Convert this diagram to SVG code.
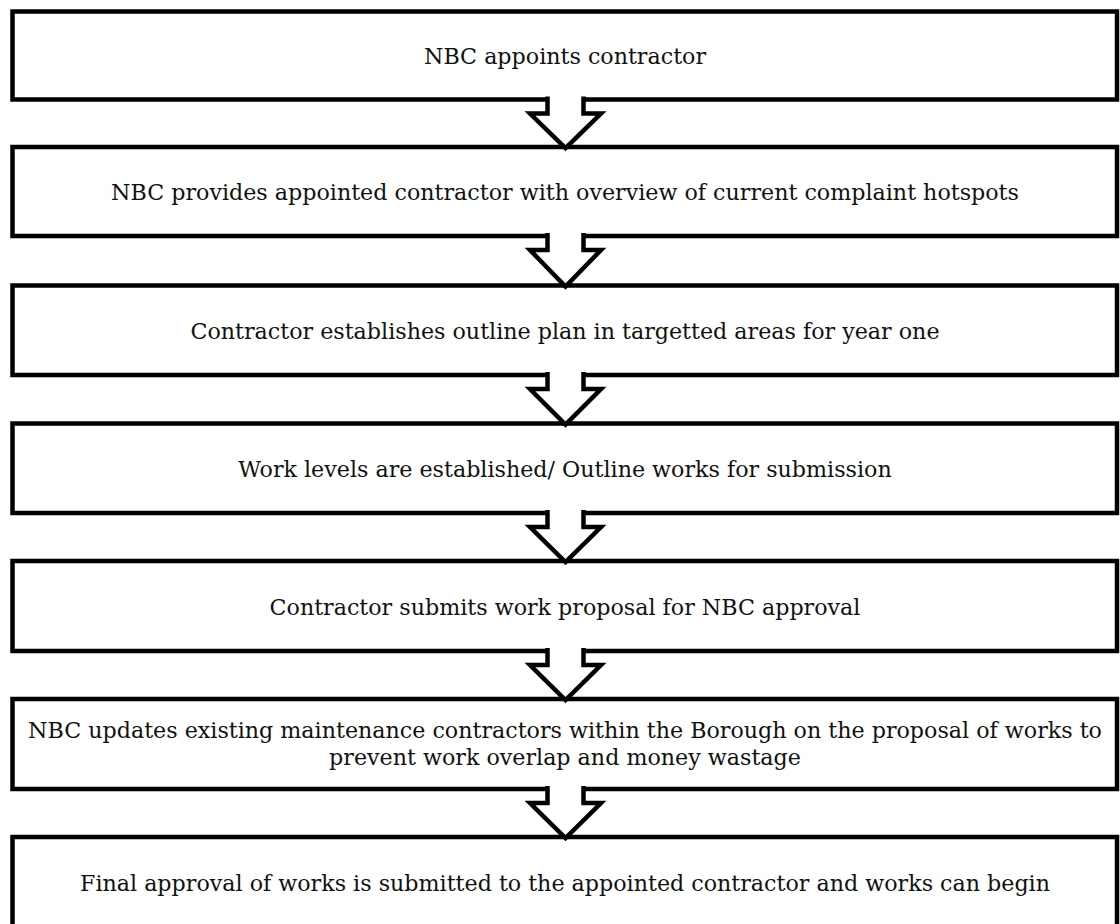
<svg xmlns="http://www.w3.org/2000/svg" width="1120" height="924" viewBox="0 0 1120 924">
  <style>
    .box { fill: #ffffff; stroke: #000000; stroke-width: 4.5; }
    .arrow { fill: #ffffff; stroke: #000000; stroke-width: 4.5; stroke-linejoin: miter; stroke-miterlimit: 10; }
    .lbl { font-family: "DejaVu Serif", "Liberation Serif", serif; font-size: 22.2px; fill: #111111; text-anchor: middle; }
  </style>
  <rect width="1120" height="924" fill="#ffffff"/>
  <g id="node1">
    <rect class="box" x="12.5" y="11.5" width="1104.5" height="88"/>
    <text class="lbl" x="565" y="63.5">NBC appoints contractor</text>
  </g>
  <g id="node2">
    <rect class="box" x="12.5" y="147" width="1104.5" height="89"/>
    <text class="lbl" x="565" y="200">NBC provides appointed contractor with overview of current complaint hotspots</text>
  </g>
  <g id="node3">
    <rect class="box" x="12.5" y="285.5" width="1104.5" height="89.5"/>
    <text class="lbl" x="565" y="338.5">Contractor establishes outline plan in targetted areas for year one</text>
  </g>
  <g id="node4">
    <rect class="box" x="12.5" y="423.5" width="1104.5" height="89.5"/>
    <text class="lbl" x="565" y="476.5">Work levels are established/ Outline works for submission</text>
  </g>
  <g id="node5">
    <rect class="box" x="12.5" y="561" width="1104.5" height="90"/>
    <text class="lbl" x="565" y="614.5">Contractor submits work proposal for NBC approval</text>
  </g>
  <g id="node6">
    <rect class="box" x="12.5" y="699" width="1104.5" height="90"/>
    <text class="lbl" x="565" y="737.5">NBC updates existing maintenance contractors within the Borough on the proposal of works to</text>
    <text class="lbl" x="565" y="765">prevent work overlap and money wastage</text>
  </g>
  <g id="node7">
    <rect class="box" x="12.5" y="837" width="1104.5" height="90"/>
    <text class="lbl" x="565" y="890.5">Final approval of works is submitted to the appointed contractor and works can begin</text>
  </g>
  <g id="connectors">
    <path class="arrow" d="M547.5,96.5 V113.5 H530 L565.5,148 L601,113.5 H583.5 V96.5"/>
    <path class="arrow" d="M547.5,233 V250 H530 L565.5,286.5 L601,250 H583.5 V233"/>
    <path class="arrow" d="M547.5,372 V389 H530 L565.5,424.5 L601,389 H583.5 V372"/>
    <path class="arrow" d="M547.5,510 V527 H530 L565.5,562 L601,527 H583.5 V510"/>
    <path class="arrow" d="M547.5,648 V665 H530 L565.5,700 L601,665 H583.5 V648"/>
    <path class="arrow" d="M547.5,786 V803 H530 L565.5,838 L601,803 H583.5 V786"/>
  </g>
</svg>
